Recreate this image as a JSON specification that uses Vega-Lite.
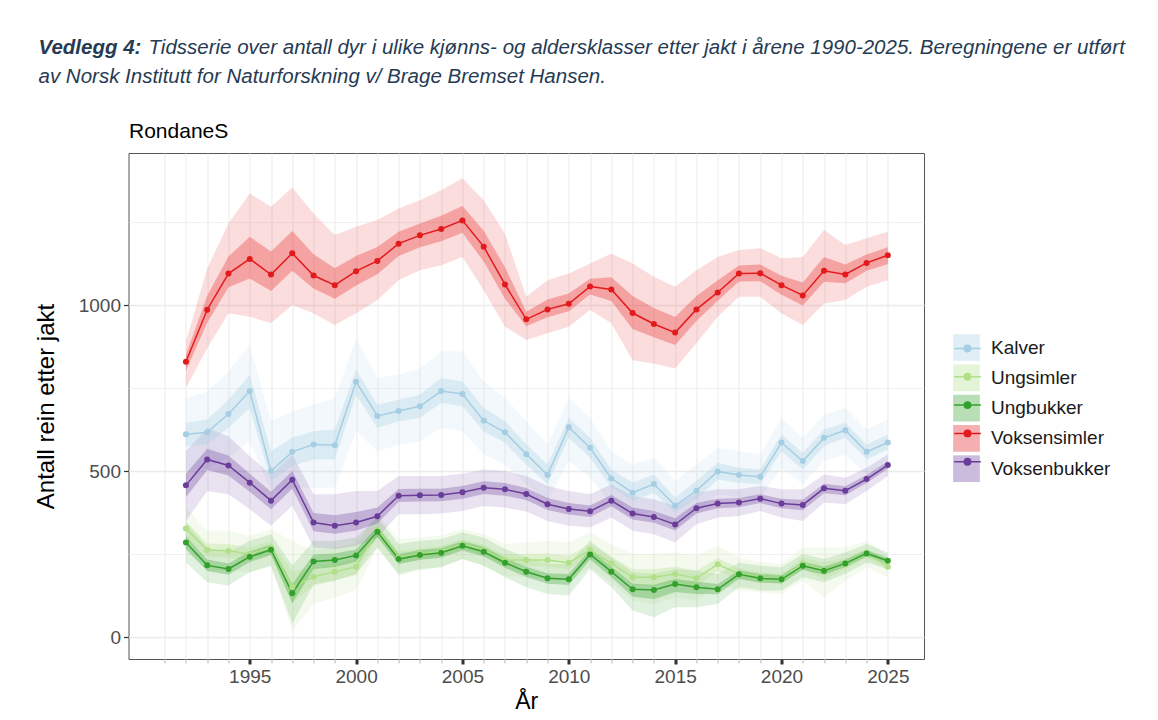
{
"$schema": "https://vega.github.io/schema/vega-lite/v6.json",
"width": 795.5,
"height": 506,
"autosize": {"type": "none"},
"padding": {"left": 128.5, "top": 153, "right": 234, "bottom": 61},
"background": "white",
"config": {
  "view": {"stroke": "#555555", "strokeWidth": 1},
  "font": "Liberation Sans"
},
"resolve": {"axis": {"x": "independent", "y": "independent"}},
"data": {"values": [
{"klasse":"Kalver","ar":1992,"n":611,"l95":500,"h95":720,"l50":575,"h50":645},
{"klasse":"Kalver","ar":1993,"n":617,"l95":510,"h95":740,"l50":580,"h50":655},
{"klasse":"Kalver","ar":1994,"n":672,"l95":540,"h95":800,"l50":630,"h50":715},
{"klasse":"Kalver","ar":1995,"n":741,"l95":590,"h95":880,"l50":690,"h50":790},
{"klasse":"Kalver","ar":1996,"n":500,"l95":440,"h95":650,"l50":470,"h50":560},
{"klasse":"Kalver","ar":1997,"n":558,"l95":450,"h95":680,"l50":515,"h50":600},
{"klasse":"Kalver","ar":1998,"n":580,"l95":450,"h95":700,"l50":535,"h50":620},
{"klasse":"Kalver","ar":1999,"n":578,"l95":450,"h95":720,"l50":535,"h50":625},
{"klasse":"Kalver","ar":2000,"n":769,"l95":620,"h95":900,"l50":730,"h50":805},
{"klasse":"Kalver","ar":2001,"n":666,"l95":560,"h95":780,"l50":630,"h50":700},
{"klasse":"Kalver","ar":2002,"n":681,"l95":580,"h95":790,"l50":650,"h50":715},
{"klasse":"Kalver","ar":2003,"n":695,"l95":590,"h95":810,"l50":660,"h50":730},
{"klasse":"Kalver","ar":2004,"n":741,"l95":630,"h95":860,"l50":705,"h50":780},
{"klasse":"Kalver","ar":2005,"n":732,"l95":620,"h95":860,"l50":695,"h50":770},
{"klasse":"Kalver","ar":2006,"n":652,"l95":550,"h95":770,"l50":620,"h50":690},
{"klasse":"Kalver","ar":2007,"n":617,"l95":520,"h95":720,"l50":585,"h50":650},
{"klasse":"Kalver","ar":2008,"n":551,"l95":460,"h95":650,"l50":520,"h50":580},
{"klasse":"Kalver","ar":2009,"n":488,"l95":410,"h95":580,"l50":460,"h50":520},
{"klasse":"Kalver","ar":2010,"n":632,"l95":530,"h95":720,"l50":600,"h50":660},
{"klasse":"Kalver","ar":2011,"n":570,"l95":480,"h95":660,"l50":540,"h50":600},
{"klasse":"Kalver","ar":2012,"n":478,"l95":400,"h95":560,"l50":450,"h50":505},
{"klasse":"Kalver","ar":2013,"n":435,"l95":360,"h95":520,"l50":410,"h50":465},
{"klasse":"Kalver","ar":2014,"n":461,"l95":380,"h95":540,"l50":435,"h50":490},
{"klasse":"Kalver","ar":2015,"n":396,"l95":330,"h95":470,"l50":375,"h50":420},
{"klasse":"Kalver","ar":2016,"n":441,"l95":370,"h95":520,"l50":415,"h50":470},
{"klasse":"Kalver","ar":2017,"n":499,"l95":430,"h95":570,"l50":475,"h50":525},
{"klasse":"Kalver","ar":2018,"n":488,"l95":420,"h95":560,"l50":465,"h50":510},
{"klasse":"Kalver","ar":2019,"n":483,"l95":420,"h95":550,"l50":460,"h50":505},
{"klasse":"Kalver","ar":2020,"n":586,"l95":510,"h95":660,"l50":560,"h50":610},
{"klasse":"Kalver","ar":2021,"n":530,"l95":460,"h95":600,"l50":505,"h50":555},
{"klasse":"Kalver","ar":2022,"n":600,"l95":530,"h95":670,"l50":575,"h50":625},
{"klasse":"Kalver","ar":2023,"n":623,"l95":550,"h95":690,"l50":600,"h50":645},
{"klasse":"Kalver","ar":2024,"n":558,"l95":490,"h95":625,"l50":535,"h50":580},
{"klasse":"Kalver","ar":2025,"n":586,"l95":520,"h95":655,"l50":565,"h50":610},
{"klasse":"Ungsimler","ar":1992,"n":327,"l95":260,"h95":390,"l50":304,"h50":348},
{"klasse":"Ungsimler","ar":1993,"n":262,"l95":200,"h95":320,"l50":241,"h50":282},
{"klasse":"Ungsimler","ar":1994,"n":260,"l95":200,"h95":320,"l50":240,"h50":280},
{"klasse":"Ungsimler","ar":1995,"n":250,"l95":195,"h95":305,"l50":231,"h50":269},
{"klasse":"Ungsimler","ar":1996,"n":270,"l95":215,"h95":325,"l50":251,"h50":289},
{"klasse":"Ungsimler","ar":1997,"n":150,"l95":20,"h95":290,"l50":106,"h50":198},
{"klasse":"Ungsimler","ar":1998,"n":182,"l95":100,"h95":260,"l50":154,"h50":209},
{"klasse":"Ungsimler","ar":1999,"n":197,"l95":120,"h95":270,"l50":171,"h50":222},
{"klasse":"Ungsimler","ar":2000,"n":212,"l95":140,"h95":280,"l50":188,"h50":235},
{"klasse":"Ungsimler","ar":2001,"n":322,"l95":270,"h95":370,"l50":304,"h50":338},
{"klasse":"Ungsimler","ar":2002,"n":240,"l95":185,"h95":295,"l50":221,"h50":259},
{"klasse":"Ungsimler","ar":2003,"n":250,"l95":200,"h95":300,"l50":233,"h50":267},
{"klasse":"Ungsimler","ar":2004,"n":258,"l95":210,"h95":305,"l50":242,"h50":274},
{"klasse":"Ungsimler","ar":2005,"n":280,"l95":235,"h95":325,"l50":265,"h50":295},
{"klasse":"Ungsimler","ar":2006,"n":262,"l95":215,"h95":310,"l50":246,"h50":278},
{"klasse":"Ungsimler","ar":2007,"n":232,"l95":185,"h95":280,"l50":216,"h50":248},
{"klasse":"Ungsimler","ar":2008,"n":232,"l95":180,"h95":285,"l50":214,"h50":250},
{"klasse":"Ungsimler","ar":2009,"n":232,"l95":175,"h95":290,"l50":213,"h50":252},
{"klasse":"Ungsimler","ar":2010,"n":224,"l95":165,"h95":285,"l50":204,"h50":245},
{"klasse":"Ungsimler","ar":2011,"n":262,"l95":210,"h95":315,"l50":244,"h50":280},
{"klasse":"Ungsimler","ar":2012,"n":222,"l95":165,"h95":280,"l50":203,"h50":242},
{"klasse":"Ungsimler","ar":2013,"n":180,"l95":110,"h95":250,"l50":156,"h50":204},
{"klasse":"Ungsimler","ar":2014,"n":180,"l95":100,"h95":250,"l50":153,"h50":204},
{"klasse":"Ungsimler","ar":2015,"n":190,"l95":120,"h95":255,"l50":166,"h50":212},
{"klasse":"Ungsimler","ar":2016,"n":177,"l95":110,"h95":245,"l50":154,"h50":200},
{"klasse":"Ungsimler","ar":2017,"n":219,"l95":160,"h95":275,"l50":199,"h50":238},
{"klasse":"Ungsimler","ar":2018,"n":190,"l95":140,"h95":240,"l50":173,"h50":207},
{"klasse":"Ungsimler","ar":2019,"n":180,"l95":135,"h95":225,"l50":165,"h50":195},
{"klasse":"Ungsimler","ar":2020,"n":174,"l95":130,"h95":220,"l50":159,"h50":190},
{"klasse":"Ungsimler","ar":2021,"n":222,"l95":170,"h95":270,"l50":204,"h50":238},
{"klasse":"Ungsimler","ar":2022,"n":202,"l95":120,"h95":270,"l50":174,"h50":225},
{"klasse":"Ungsimler","ar":2023,"n":222,"l95":170,"h95":270,"l50":204,"h50":238},
{"klasse":"Ungsimler","ar":2024,"n":252,"l95":210,"h95":290,"l50":238,"h50":265},
{"klasse":"Ungsimler","ar":2025,"n":212,"l95":180,"h95":245,"l50":201,"h50":223},
{"klasse":"Ungbukker","ar":1992,"n":285,"l95":225,"h95":345,"l50":265,"h50":305},
{"klasse":"Ungbukker","ar":1993,"n":216,"l95":165,"h95":270,"l50":199,"h50":234},
{"klasse":"Ungbukker","ar":1994,"n":205,"l95":155,"h95":255,"l50":188,"h50":222},
{"klasse":"Ungbukker","ar":1995,"n":242,"l95":195,"h95":290,"l50":226,"h50":258},
{"klasse":"Ungbukker","ar":1996,"n":263,"l95":215,"h95":310,"l50":247,"h50":279},
{"klasse":"Ungbukker","ar":1997,"n":132,"l95":40,"h95":215,"l50":101,"h50":160},
{"klasse":"Ungbukker","ar":1998,"n":228,"l95":160,"h95":290,"l50":205,"h50":249},
{"klasse":"Ungbukker","ar":1999,"n":232,"l95":170,"h95":290,"l50":211,"h50":252},
{"klasse":"Ungbukker","ar":2000,"n":246,"l95":190,"h95":300,"l50":227,"h50":264},
{"klasse":"Ungbukker","ar":2001,"n":317,"l95":270,"h95":360,"l50":301,"h50":332},
{"klasse":"Ungbukker","ar":2002,"n":235,"l95":190,"h95":280,"l50":220,"h50":250},
{"klasse":"Ungbukker","ar":2003,"n":247,"l95":205,"h95":290,"l50":233,"h50":262},
{"klasse":"Ungbukker","ar":2004,"n":254,"l95":210,"h95":295,"l50":239,"h50":268},
{"klasse":"Ungbukker","ar":2005,"n":275,"l95":235,"h95":315,"l50":261,"h50":289},
{"klasse":"Ungbukker","ar":2006,"n":257,"l95":215,"h95":300,"l50":243,"h50":272},
{"klasse":"Ungbukker","ar":2007,"n":224,"l95":180,"h95":265,"l50":209,"h50":238},
{"klasse":"Ungbukker","ar":2008,"n":197,"l95":150,"h95":240,"l50":181,"h50":212},
{"klasse":"Ungbukker","ar":2009,"n":177,"l95":130,"h95":220,"l50":161,"h50":192},
{"klasse":"Ungbukker","ar":2010,"n":174,"l95":125,"h95":220,"l50":157,"h50":190},
{"klasse":"Ungbukker","ar":2011,"n":249,"l95":205,"h95":290,"l50":234,"h50":263},
{"klasse":"Ungbukker","ar":2012,"n":197,"l95":150,"h95":240,"l50":181,"h50":212},
{"klasse":"Ungbukker","ar":2013,"n":144,"l95":80,"h95":195,"l50":122,"h50":161},
{"klasse":"Ungbukker","ar":2014,"n":142,"l95":60,"h95":190,"l50":114,"h50":158},
{"klasse":"Ungbukker","ar":2015,"n":160,"l95":90,"h95":205,"l50":136,"h50":175},
{"klasse":"Ungbukker","ar":2016,"n":150,"l95":90,"h95":200,"l50":130,"h50":167},
{"klasse":"Ungbukker","ar":2017,"n":144,"l95":100,"h95":190,"l50":129,"h50":160},
{"klasse":"Ungbukker","ar":2018,"n":189,"l95":150,"h95":225,"l50":176,"h50":201},
{"klasse":"Ungbukker","ar":2019,"n":177,"l95":140,"h95":215,"l50":164,"h50":190},
{"klasse":"Ungbukker","ar":2020,"n":174,"l95":140,"h95":210,"l50":162,"h50":186},
{"klasse":"Ungbukker","ar":2021,"n":215,"l95":180,"h95":250,"l50":203,"h50":227},
{"klasse":"Ungbukker","ar":2022,"n":200,"l95":165,"h95":235,"l50":188,"h50":212},
{"klasse":"Ungbukker","ar":2023,"n":222,"l95":190,"h95":255,"l50":211,"h50":233},
{"klasse":"Ungbukker","ar":2024,"n":252,"l95":225,"h95":280,"l50":243,"h50":262},
{"klasse":"Ungbukker","ar":2025,"n":230,"l95":205,"h95":255,"l50":221,"h50":239},
{"klasse":"Voksensimler","ar":1992,"n":829,"l95":750,"h95":890,"l50":802,"h50":850},
{"klasse":"Voksensimler","ar":1993,"n":986,"l95":870,"h95":1110,"l50":947,"h50":1028},
{"klasse":"Voksensimler","ar":1994,"n":1095,"l95":975,"h95":1246,"l50":1054,"h50":1146},
{"klasse":"Voksensimler","ar":1995,"n":1139,"l95":965,"h95":1336,"l50":1080,"h50":1206},
{"klasse":"Voksensimler","ar":1996,"n":1092,"l95":945,"h95":1296,"l50":1042,"h50":1161},
{"klasse":"Voksensimler","ar":1997,"n":1156,"l95":1000,"h95":1354,"l50":1103,"h50":1223},
{"klasse":"Voksensimler","ar":1998,"n":1089,"l95":975,"h95":1276,"l50":1050,"h50":1153},
{"klasse":"Voksensimler","ar":1999,"n":1060,"l95":940,"h95":1211,"l50":1019,"h50":1111},
{"klasse":"Voksensimler","ar":2000,"n":1102,"l95":975,"h95":1236,"l50":1059,"h50":1148},
{"klasse":"Voksensimler","ar":2001,"n":1133,"l95":1015,"h95":1256,"l50":1093,"h50":1175},
{"klasse":"Voksensimler","ar":2002,"n":1185,"l95":1075,"h95":1291,"l50":1148,"h50":1221},
{"klasse":"Voksensimler","ar":2003,"n":1210,"l95":1105,"h95":1316,"l50":1174,"h50":1246},
{"klasse":"Voksensimler","ar":2004,"n":1229,"l95":1120,"h95":1346,"l50":1192,"h50":1269},
{"klasse":"Voksensimler","ar":2005,"n":1255,"l95":1145,"h95":1382,"l50":1218,"h50":1298},
{"klasse":"Voksensimler","ar":2006,"n":1176,"l95":1045,"h95":1316,"l50":1131,"h50":1224},
{"klasse":"Voksensimler","ar":2007,"n":1062,"l95":935,"h95":1215,"l50":1019,"h50":1114},
{"klasse":"Voksensimler","ar":2008,"n":957,"l95":895,"h95":1025,"l50":936,"h50":980},
{"klasse":"Voksensimler","ar":2009,"n":987,"l95":915,"h95":1075,"l50":963,"h50":1017},
{"klasse":"Voksensimler","ar":2010,"n":1004,"l95":935,"h95":1095,"l50":981,"h50":1035},
{"klasse":"Voksensimler","ar":2011,"n":1056,"l95":985,"h95":1125,"l50":1032,"h50":1079},
{"klasse":"Voksensimler","ar":2012,"n":1047,"l95":945,"h95":1155,"l50":1012,"h50":1084},
{"klasse":"Voksensimler","ar":2013,"n":976,"l95":834,"h95":1125,"l50":928,"h50":1027},
{"klasse":"Voksensimler","ar":2014,"n":943,"l95":824,"h95":1085,"l50":903,"h50":991},
{"klasse":"Voksensimler","ar":2015,"n":917,"l95":809,"h95":1055,"l50":880,"h50":964},
{"klasse":"Voksensimler","ar":2016,"n":987,"l95":885,"h95":1105,"l50":952,"h50":1027},
{"klasse":"Voksensimler","ar":2017,"n":1038,"l95":965,"h95":1145,"l50":1013,"h50":1074},
{"klasse":"Voksensimler","ar":2018,"n":1095,"l95":1025,"h95":1166,"l50":1071,"h50":1119},
{"klasse":"Voksensimler","ar":2019,"n":1096,"l95":1025,"h95":1171,"l50":1072,"h50":1122},
{"klasse":"Voksensimler","ar":2020,"n":1060,"l95":975,"h95":1141,"l50":1031,"h50":1088},
{"klasse":"Voksensimler","ar":2021,"n":1029,"l95":940,"h95":1145,"l50":999,"h50":1068},
{"klasse":"Voksensimler","ar":2022,"n":1103,"l95":1005,"h95":1226,"l50":1070,"h50":1145},
{"klasse":"Voksensimler","ar":2023,"n":1092,"l95":1015,"h95":1181,"l50":1066,"h50":1122},
{"klasse":"Voksensimler","ar":2024,"n":1127,"l95":1055,"h95":1201,"l50":1103,"h50":1152},
{"klasse":"Voksensimler","ar":2025,"n":1150,"l95":1075,"h95":1221,"l50":1124,"h50":1174},
{"klasse":"Voksenbukker","ar":1992,"n":457,"l95":350,"h95":560,"l50":421,"h50":492},
{"klasse":"Voksenbukker","ar":1993,"n":535,"l95":440,"h95":630,"l50":503,"h50":567},
{"klasse":"Voksenbukker","ar":1994,"n":517,"l95":430,"h95":605,"l50":487,"h50":547},
{"klasse":"Voksenbukker","ar":1995,"n":465,"l95":385,"h95":545,"l50":438,"h50":492},
{"klasse":"Voksenbukker","ar":1996,"n":411,"l95":335,"h95":490,"l50":385,"h50":438},
{"klasse":"Voksenbukker","ar":1997,"n":474,"l95":395,"h95":550,"l50":447,"h50":500},
{"klasse":"Voksenbukker","ar":1998,"n":345,"l95":270,"h95":430,"l50":319,"h50":374},
{"klasse":"Voksenbukker","ar":1999,"n":335,"l95":265,"h95":430,"l50":311,"h50":367},
{"klasse":"Voksenbukker","ar":2000,"n":345,"l95":275,"h95":440,"l50":321,"h50":377},
{"klasse":"Voksenbukker","ar":2001,"n":364,"l95":300,"h95":440,"l50":342,"h50":390},
{"klasse":"Voksenbukker","ar":2002,"n":426,"l95":370,"h95":485,"l50":407,"h50":446},
{"klasse":"Voksenbukker","ar":2003,"n":427,"l95":370,"h95":485,"l50":408,"h50":447},
{"klasse":"Voksenbukker","ar":2004,"n":428,"l95":372,"h95":485,"l50":409,"h50":447},
{"klasse":"Voksenbukker","ar":2005,"n":436,"l95":380,"h95":492,"l50":417,"h50":455},
{"klasse":"Voksenbukker","ar":2006,"n":450,"l95":395,"h95":505,"l50":431,"h50":469},
{"klasse":"Voksenbukker","ar":2007,"n":445,"l95":390,"h95":500,"l50":426,"h50":464},
{"klasse":"Voksenbukker","ar":2008,"n":431,"l95":378,"h95":485,"l50":413,"h50":449},
{"klasse":"Voksenbukker","ar":2009,"n":400,"l95":350,"h95":455,"l50":383,"h50":419},
{"klasse":"Voksenbukker","ar":2010,"n":386,"l95":335,"h95":440,"l50":369,"h50":404},
{"klasse":"Voksenbukker","ar":2011,"n":379,"l95":330,"h95":430,"l50":362,"h50":396},
{"klasse":"Voksenbukker","ar":2012,"n":411,"l95":360,"h95":460,"l50":394,"h50":428},
{"klasse":"Voksenbukker","ar":2013,"n":372,"l95":320,"h95":425,"l50":354,"h50":390},
{"klasse":"Voksenbukker","ar":2014,"n":362,"l95":310,"h95":415,"l50":344,"h50":380},
{"klasse":"Voksenbukker","ar":2015,"n":339,"l95":285,"h95":395,"l50":321,"h50":358},
{"klasse":"Voksenbukker","ar":2016,"n":388,"l95":340,"h95":435,"l50":372,"h50":404},
{"klasse":"Voksenbukker","ar":2017,"n":402,"l95":360,"h95":445,"l50":388,"h50":417},
{"klasse":"Voksenbukker","ar":2018,"n":405,"l95":365,"h95":445,"l50":391,"h50":419},
{"klasse":"Voksenbukker","ar":2019,"n":417,"l95":380,"h95":455,"l50":404,"h50":430},
{"klasse":"Voksenbukker","ar":2020,"n":402,"l95":360,"h95":445,"l50":388,"h50":417},
{"klasse":"Voksenbukker","ar":2021,"n":398,"l95":350,"h95":445,"l50":382,"h50":414},
{"klasse":"Voksenbukker","ar":2022,"n":448,"l95":405,"h95":490,"l50":433,"h50":462},
{"klasse":"Voksenbukker","ar":2023,"n":441,"l95":400,"h95":480,"l50":427,"h50":454},
{"klasse":"Voksenbukker","ar":2024,"n":476,"l95":440,"h95":510,"l50":464,"h50":488},
{"klasse":"Voksenbukker","ar":2025,"n":518,"l95":485,"h95":550,"l50":507,"h50":529}
]},
"layer": [
{
  "mark": {"type": "area", "fillOpacity": 0.15},
  "encoding": {
    "x": {"field": "ar", "type": "quantitative", "scale": {"domain": [1989.3, 2026.7], "nice": false, "zero": false},
      "axis": {"values": [1991,1992,1993,1994,1995,1996,1997,1998,1999,2000,2001,2002,2003,2004,2005,2006,2007,2008,2009,2010,2011,2012,2013,2014,2015,2016,2017,2018,2019,2020,2021,2022,2023,2024,2025],
        "format": "d", "labelExpr": "datum.value % 5 === 0 ? datum.label : ''", "labelOverlap": false, "labelFlush": false,
        "grid": true, "gridColor": "#ebebeb", "gridWidth": 1, "domain": false,
        "tickSize": {"condition": {"test": "datum.value % 5 === 0", "value": 5}, "value": 4},
        "tickWidth": {"condition": {"test": "datum.value % 5 === 0", "value": 3}, "value": 1},
        "tickColor": {"condition": {"test": "datum.value % 5 === 0", "value": "#333333"}, "value": "#b5b5b5"},
        "labelFontSize": 19, "labelColor": "#4d4d4d", "labelPadding": 3,
        "title": "År", "titleFontSize": 23, "titleFontWeight": "normal", "titleColor": "#000000", "titlePadding": 4}},
    "y": {"field": "l95", "type": "quantitative", "title": "Antall rein etter jakt", "scale": {"domain": [-66, 1458], "nice": false, "zero": false},
      "axis": {"values": [0, 250, 500, 750, 1000, 1250], "format": "d", "labelExpr": "datum.value % 500 === 0 ? datum.label : ''",
        "grid": true, "gridColor": "#ebebeb",
        "gridWidth": {"condition": {"test": "datum.value % 500 === 0", "value": 1.3}, "value": 0.7},
        "tickSize": {"condition": {"test": "datum.value % 500 === 0", "value": 5}, "value": 0},
        "tickColor": "#333333", "tickWidth": 1.2, "domain": false,
        "labelFontSize": 19, "labelColor": "#4d4d4d", "labelPadding": 3,
        "title": "Antall rein etter jakt", "titleFontSize": 24, "titleFontWeight": "normal", "titleColor": "#000000", "titlePadding": 20}},
    "y2": {"field": "h95"},
    "fill": {"field": "klasse", "type": "nominal",
      "scale": {"domain": ["Kalver", "Ungsimler", "Ungbukker", "Voksensimler", "Voksenbukker"], "range": ["#a6cee3", "#b2df8a", "#33a02c", "#e31a1c", "#6a3d9a"]},
      "legend": {"title": null, "orient": "none", "legendX": 824.5, "legendY": 181, "padding": 0,
        "symbolType": "square", "symbolSize": 713, "symbolOpacity": 0.35, "symbolStrokeWidth": 0,
        "labelFontSize": 19, "labelColor": "#1a1a1a", "labelOffset": 11, "rowPadding": 3.3}}
  }
},
{
  "mark": {"type": "area", "fillOpacity": 0.3},
  "encoding": {
    "x": {"field": "ar", "type": "quantitative", "scale": {"domain": [1989.3, 2026.7], "nice": false, "zero": false},
      "axis": {"orient": "top", "labels": false, "ticks": false, "domain": false, "grid": false,
        "title": "Tidsserie over antall dyr i ulike kjønns- og aldersklasser etter jakt i årene 1990-2025. Beregningene er utført",
        "titleX": 19.5, "titleY": -100, "titleAlign": "left", "titleAnchor": "start", "titleBaseline": "alphabetic",
        "titleFont": "Liberation Sans", "titleFontSize": 20.5, "titleFontStyle": "italic", "titleFontWeight": "normal",
        "titleColor": "#263b53", "titleLimit": 3000}},
    "y": {"field": "l50", "type": "quantitative", "title": "Antall rein etter jakt", "scale": {"domain": [-66, 1458], "nice": false, "zero": false},
      "axis": {"orient": "right", "labels": false, "ticks": false, "domain": false, "grid": false,
        "title": "av Norsk Institutt for Naturforskning v/ Brage Bremset Hansen.",
        "titleX": -886, "titleY": -71, "titleAngle": 0, "titleAlign": "left", "titleBaseline": "alphabetic",
        "titleFont": "Liberation Sans", "titleFontSize": 20.5, "titleFontStyle": "italic", "titleFontWeight": "normal",
        "titleColor": "#263b53", "titleLimit": 3000}},
    "y2": {"field": "h50"},
    "fill": {"field": "klasse", "type": "nominal",
      "scale": {"domain": ["Kalver", "Ungsimler", "Ungbukker", "Voksensimler", "Voksenbukker"], "range": ["#a6cee3", "#b2df8a", "#33a02c", "#e31a1c", "#6a3d9a"]},
      "legend": null}
  }
},
{
  "mark": {"type": "line", "strokeWidth": 1.5},
  "encoding": {
    "x": {"field": "ar", "type": "quantitative", "scale": {"domain": [1989.3, 2026.7], "nice": false, "zero": false},
      "axis": {"orient": "top", "labels": false, "ticks": false, "domain": false, "grid": false,
        "title": "Vedlegg 4:",
        "titleX": -90.5, "titleY": -100, "titleAlign": "left", "titleAnchor": "start", "titleBaseline": "alphabetic",
        "titleFont": "Liberation Sans", "titleFontSize": 20.5, "titleFontStyle": "italic", "titleFontWeight": "bold",
        "titleColor": "#263b53", "titleLimit": 3000}},
    "y": {"field": "n", "type": "quantitative", "title": "Antall rein etter jakt", "scale": {"domain": [-66, 1458], "nice": false, "zero": false}, "axis": null},
    "stroke": {"field": "klasse", "type": "nominal", "sort": ["Kalver", "Ungsimler", "Ungbukker", "Voksensimler", "Voksenbukker"],
      "scale": {"range": ["#a6cee3", "#b2df8a", "#33a02c", "#e31a1c", "#6a3d9a"]},
      "legend": {"title": null, "orient": "none", "legendX": 824.5, "legendY": 181, "padding": 0,
        "symbolType": "M-1,0H1M0.24,0A0.24,0.24,0,1,1,-0.24,0A0.24,0.24,0,1,1,0.24,0Z", "symbolSize": 713, "symbolStrokeWidth": 1.5,
        "labelFontSize": 19, "labelExpr": "''", "labelOffset": 11, "rowPadding": 3.3,
        "encode": {"symbols": {"update": {"fill": {"scale": "stroke", "field": "value"}}}}}}
  }
},
{
  "mark": {"type": "point", "filled": true, "size": 36, "opacity": 1},
  "encoding": {
    "x": {"field": "ar", "type": "quantitative", "scale": {"domain": [1989.3, 2026.7], "nice": false, "zero": false},
      "axis": {"orient": "top", "title": "RondaneS", "labels": false, "ticks": false, "domain": false, "grid": false,
        "titleAnchor": "start", "titleAlign": "left", "titleFontSize": 21, "titleFontWeight": "normal", "titleColor": "#000000", "titlePadding": 12}},
    "y": {"field": "n", "type": "quantitative", "title": "Antall rein etter jakt", "scale": {"domain": [-66, 1458], "nice": false, "zero": false}, "axis": null},
    "fill": {"field": "klasse", "type": "nominal",
      "scale": {"domain": ["Kalver", "Ungsimler", "Ungbukker", "Voksensimler", "Voksenbukker"], "range": ["#a6cee3", "#b2df8a", "#33a02c", "#e31a1c", "#6a3d9a"]},
      "legend": null}
  }
}
]
}
